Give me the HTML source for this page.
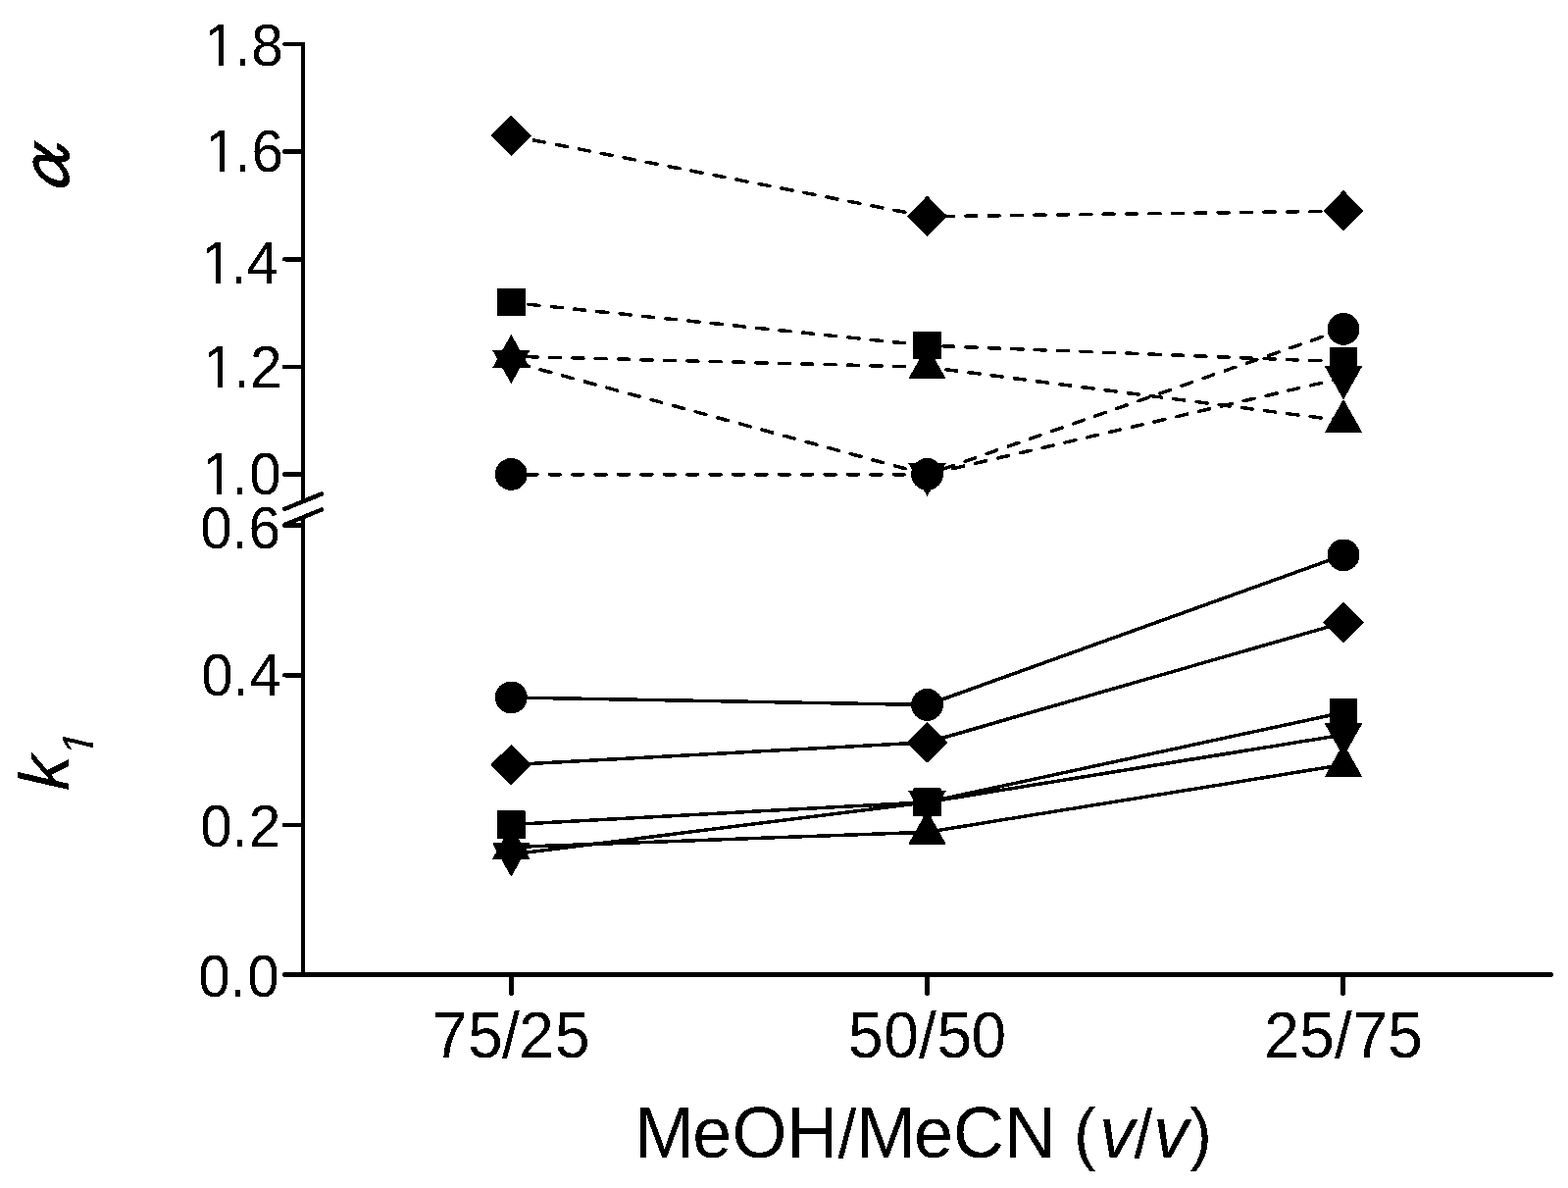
<!DOCTYPE html>
<html lang="en">
<head>
<meta charset="utf-8">
<title>MeOH/MeCN chart</title>
<style>
html,body{margin:0;padding:0;background:#fff;}
body{width:1599px;height:1211px;overflow:hidden;}
svg{display:block;position:absolute;left:0;top:0;}
text{font-family:"Liberation Sans",sans-serif;fill:#000;}
.yt{font-size:58.5px;}
.xt{font-size:64px;}
.ti{font-size:72px;}
.it{font-style:italic;}
.pa{font-size:68px;}
.al{font-family:"IPAGothic","Liberation Serif",serif;font-size:72px;stroke:#000;stroke-width:0.6;}
.ax{stroke:#000;fill:none;}
.ln{stroke:#000;stroke-width:3.5;fill:none;stroke-linejoin:round;}
.ds{stroke:#000;stroke-width:3.5;fill:none;stroke-dasharray:11.2 12.2;stroke-dashoffset:0.3;stroke-linecap:round;}
</style>
</head>
<body>
<svg width="1599" height="1211" viewBox="0 0 1599 1211">
<defs>
<filter id="bw" x="0" y="0" width="1599" height="1211" filterUnits="userSpaceOnUse" color-interpolation-filters="sRGB"><feComponentTransfer><feFuncR type="discrete" tableValues="0 1"/><feFuncG type="discrete" tableValues="0 1"/><feFuncB type="discrete" tableValues="0 1"/></feComponentTransfer></filter>
<clipPath id="c1" clipPathUnits="userSpaceOnUse"><path d="M-5 -60H300V5H30.5V-4.6H19.95V5H14.7V-4.6H-5Z"/></clipPath>
<clipPath id="c2" clipPathUnits="userSpaceOnUse"><path d="M-10 -80H100V21.5H50.15L49.4 25.6H44.7L45.45 21.5H-10Z"/></clipPath>
</defs>
<g filter="url(#bw)">
<rect x="0" y="0" width="1599" height="1211" fill="#fff"/>

<g class="ax" stroke-width="4.5" stroke-linecap="round" stroke-linejoin="round">
<path d="M290.2 45H309V510"/>
<path d="M309 528V993.5"/>
<path d="M290.2 993.5H1581.8"/>
<path d="M521.5 995V1012.8"/>
<path d="M945.5 995V1012.8"/>
<path d="M1369.5 995V1012.8"/>
<path d="M290.2 154.6H307"/>
<path d="M290.2 264.25H307"/>
<path d="M290.2 373.9H307"/>
<path d="M290.2 483.5H307"/>
<path d="M290.2 535.6H307"/>
<path d="M290.2 688.2H307"/>
<path d="M290.2 840.9H307"/>
<path d="M290 519L328 503.4"/>
<path d="M290 535L328 519.5"/>
</g>
<text class="yt" clip-path="url(#c1)" transform="translate(208.1 66.9) scale(1 1.041)" x="0.0 31.2 48.2" y="0">1.8</text>
<text class="yt" clip-path="url(#c1)" transform="translate(209.0 174.8) scale(1 1.041)" x="0.0 30.3 47.4" y="0">1.6</text>
<text class="yt" clip-path="url(#c1)" transform="translate(205.0 288.8) scale(1 1.041)" x="0.0 30.3 46.4" y="0">1.4</text>
<text class="yt" clip-path="url(#c1)" transform="translate(207.1 395.0) scale(1 1.041)" x="0.0 31.2 47.8" y="0">1.2</text>
<text class="yt" clip-path="url(#c1)" transform="translate(206.0 503.5) scale(1 1.041)" x="0.0 30.5 48.2" y="0">1.0</text>
<text class="yt" transform="translate(0 558.8) scale(1 1.041)" x="204.2 236.5 253.5" y="0">0.6</text>
<text class="yt" transform="translate(0 709.0) scale(1 1.041)" x="205.2 237.4 254.4" y="0">0.4</text>
<text class="yt" transform="translate(0 862.8) scale(1 1.041)" x="204.2 236.4 253.7" y="0">0.2</text>
<text class="yt" transform="translate(0 1016.0) scale(1 1.041)" x="202.2 234.4 252.2" y="0">0.0</text>
<text class="xt" transform="translate(0 1077.8) scale(1 1.042)" x="441.1 477.2 512.1 529.2 566.1" y="0">75/25</text>
<text class="xt" transform="translate(0 1077.8) scale(1 1.042)" x="865.1 901.2 937.1 955.4 990.4" y="0">50/50</text>
<text class="xt" transform="translate(0 1077.8) scale(1 1.042)" x="1289.2 1325.2 1361.1 1379.3 1415.2" y="0">25/75</text>
<text class="ti" transform="translate(0 1180) scale(1 1.035)" y="0"><tspan x="647.5 706.3 746.5 802.2">MeOH</tspan><tspan class="pa" x="854.6">/</tspan><tspan x="873.5 932.1 972.0 1024.4 1078.0">MeCN </tspan><tspan class="pa" x="1095" dy="-1">(</tspan><tspan class="it" x="1121.2" dy="1">v</tspan><tspan class="pa" x="1156.4">/</tspan><tspan class="it" x="1176.2">v</tspan><tspan class="pa" x="1213.3" dy="-1">)</tspan></text>
<text class="ti it" clip-path="url(#c2)" transform="translate(70 806.2) rotate(-90) skewX(-2)">k<tspan font-size="45px" x="36" dy="25">1</tspan></text>
<text class="al" transform="translate(73 207) rotate(-90) skewX(-10)">α</text>
<path class="ds" d="M945.5 220.7L521.3 138.5"/>
<path class="ds" d="M1370.0 215.2L945.5 220.7"/>
<path class="ds" d="M945.5 352.2L521.3 308.4"/>
<path class="ds" d="M1370.0 368.7L945.5 352.2"/>
<path class="ds" d="M945.5 374.2L521.3 363.2"/>
<path class="ds" d="M1370.0 429.0L945.5 374.2"/>
<path class="ds" d="M945.5 483.8L521.3 368.7"/>
<path class="ds" d="M1370.0 385.1L945.5 483.8"/>
<path class="ds" d="M945.5 483.8L521.3 483.8"/>
<path class="ds" d="M1370.0 335.8L945.5 483.8"/>
<polyline class="ln" points="521.3,710.9 945.5,718.5 1370.0,565.9"/>
<polyline class="ln" points="521.3,779.6 945.5,756.7 1370.0,634.6"/>
<polyline class="ln" points="521.3,840.6 945.5,817.7 1370.0,726.2"/>
<polyline class="ln" points="521.3,871.1 945.5,817.7 1370.0,749.0"/>
<polyline class="ln" points="521.3,863.5 945.5,848.2 1370.0,779.6"/>
<g fill="#000">
<path d="M521.3 117.4L542.1 138.2L521.3 159.0L500.5 138.2Z"/>
<path d="M945.5 199.6L966.3 220.4L945.5 241.2L924.7 220.4Z"/>
<path d="M1370.0 194.1L1390.8 214.9L1370.0 235.7L1349.2 214.9Z"/>
<rect x="507.0" y="293.8" width="28.6" height="28.6"/>
<rect x="931.2" y="337.6" width="28.6" height="28.6"/>
<rect x="1355.7" y="354.1" width="28.6" height="28.6"/>
<path d="M521.3 341.0L540.6 375.2L502.0 375.2Z"/>
<path d="M945.5 352.0L964.8 386.2L926.2 386.2Z"/>
<path d="M1370.0 406.8L1389.3 441.0L1350.7 441.0Z"/>
<path d="M521.3 391.0L540.6 356.8L502.0 356.8Z"/>
<path d="M945.5 506.1L964.8 471.9L926.2 471.9Z"/>
<path d="M1370.0 407.4L1389.3 373.2L1350.7 373.2Z"/>
<circle cx="521.3" cy="483.5" r="16.4"/>
<circle cx="945.5" cy="483.5" r="16.4"/>
<circle cx="1370.0" cy="335.5" r="16.4"/>
<circle cx="521.3" cy="710.9" r="16.4"/>
<circle cx="945.5" cy="718.5" r="16.4"/>
<circle cx="1370.0" cy="565.9" r="16.4"/>
<path d="M521.3 758.8L542.1 779.6L521.3 800.4L500.5 779.6Z"/>
<path d="M945.5 735.9L966.3 756.7L945.5 777.5L924.7 756.7Z"/>
<path d="M1370.0 613.8L1390.8 634.6L1370.0 655.4L1349.2 634.6Z"/>
<rect x="507.0" y="826.3" width="28.6" height="28.6"/>
<rect x="931.2" y="803.4" width="28.6" height="28.6"/>
<rect x="1355.7" y="711.9" width="28.6" height="28.6"/>
<path d="M521.3 893.7L540.6 859.5L502.0 859.5Z"/>
<path d="M945.5 840.3L964.8 806.1L926.2 806.1Z"/>
<path d="M1370.0 771.6L1389.3 737.4L1350.7 737.4Z"/>
<path d="M521.3 841.6L540.6 875.8L502.0 875.8Z"/>
<path d="M945.5 826.3L964.8 860.5L926.2 860.5Z"/>
<path d="M1370.0 757.7L1389.3 791.9L1350.7 791.9Z"/>
</g>
</g>
</svg>
</body>
</html>
